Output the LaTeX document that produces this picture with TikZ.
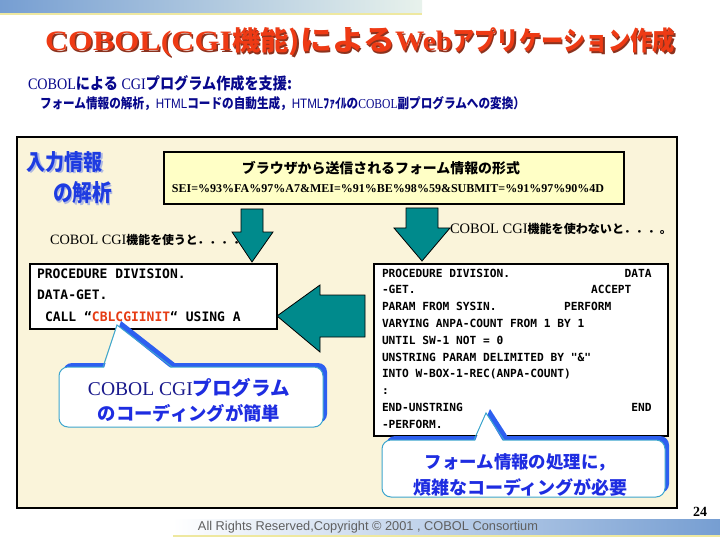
\documentclass[tikz,border=0pt]{standalone}
\usepackage{graphicx}
\usepackage{fontspec}
\setmainfont{Liberation Serif}
\newfontfamily\jp{Noto Sans CJK JP}
\newfontfamily\monof{DejaVu Sans Mono}
\newfontfamily\sansf{Liberation Sans}
\newcommand\J[1]{{\jp\bfseries #1}}
\newcommand\gap[1]{\hspace*{\dimexpr0.602em*#1\relax}}
\definecolor{panel}{RGB}{250,244,218}
\definecolor{boxyellow}{RGB}{255,255,198}
\definecolor{tealA}{RGB}{0,138,140}
\definecolor{titlered}{RGB}{238,58,20}
\definecolor{titleshadow}{RGB}{140,50,30}
\definecolor{subnavy}{RGB}{8,8,140}
\definecolor{inblue}{RGB}{30,60,225}
\definecolor{inshadow}{RGB}{175,185,225}
\definecolor{cblred}{RGB}{230,60,20}
\definecolor{calblue}{RGB}{45,95,240}
\definecolor{calline}{RGB}{60,165,205}
\definecolor{calnavy}{RGB}{25,25,140}
\definecolor{caljp}{RGB}{30,45,225}
\definecolor{barblue}{RGB}{118,158,210}
\definecolor{barmid}{RGB}{210,228,242}
\definecolor{barlight}{RGB}{232,242,236}
\definecolor{baryellow}{RGB}{238,232,160}
\definecolor{footgray}{RGB}{95,95,95}
\newcommand\titletext{%
\resizebox{187pt}{19.5pt}{\bfseries COBOL(CGI}%
\resizebox{68pt}{23pt}{\J{機能)}}%
\resizebox{95pt}{23pt}{\J{による}}%
\resizebox{57pt}{19.5pt}{\bfseries Web}%
\resizebox{223pt}{23pt}{\J{アプリケーション作成}}}
\begin{document}
\begin{tikzpicture}[x=1pt,y=-1pt,
  txt/.style={inner sep=0pt,outer sep=0pt},
  codebox/.style={draw=black,line width=1.6pt,fill=white,inner sep=0pt,anchor=north west},
  tarrow/.style={fill=tealA,draw=black,line width=0.8pt,line join=miter},
  lcode/.style={txt,anchor=base west,font={\monof\bfseries\fontsize{13}{13}\selectfont}},
  rcode/.style={txt,anchor=base west,font={\monof\bfseries\fontsize{11.2}{11.2}\selectfont}},
  calshadow/.style={fill=calblue},
  calbody/.style={draw=calline,line width=1pt,fill=white}]
\useasboundingbox (0,0) rectangle (720,540);
\fill[white] (0,0) rectangle (720,540);
% top bar
\shade[left color=barblue,middle color=barmid,right color=barlight] (0,0) rectangle (422,13);
\fill[baryellow] (0,13) rectangle (422,15);
% title
\node[txt,text=titleshadow,anchor=base west] (titlesh) at (46.5,52.5) {\titletext};
\node[txt,text=titlered,anchor=base west] (title) at (45,51) {\titletext};
% subtitles
\node[txt,anchor=west,text=subnavy] (sub1) at (28,83) {\resizebox{264pt}{14pt}{\fontsize{14}{14}\selectfont COBOL\J{による} CGI\J{プログラム作成を支援:}}};
\node[txt,anchor=west,text=subnavy] (sub2) at (40,104) {\resizebox{485pt}{12pt}{\fontsize{12}{12}\selectfont\J{フォーム情報の解析，}{\sansf HTML}\J{コードの自動生成，}{\sansf HTML}\J{ﾌｧｲﾙの}COBOL\J{副プログラムへの変換）}}};
% panel
\draw[line width=2pt,fill=panel] (17,137) rectangle (677,508);
% input analysis label
\node[txt,anchor=west,text=inshadow] (in1s) at (28.5,163.5) {\resizebox{76pt}{19pt}{\J{入力情報}}};
\node[txt,anchor=west,text=inblue] (in1) at (27,162) {\resizebox{76pt}{19pt}{\J{入力情報}}};
\node[txt,anchor=west,text=inshadow] (in2s) at (54.5,194.5) {\resizebox{59pt}{20pt}{\J{の解析}}};
\node[txt,anchor=west,text=inblue] (in2) at (53,193) {\resizebox{59pt}{20pt}{\J{の解析}}};
% yellow form box
\node[draw=black,line width=1.6pt,fill=boxyellow,minimum width=460pt,minimum height=52pt,anchor=north west,inner sep=0pt] (ybox) at (163,151) {};
\node[txt] (yt1) at (381,168) {\resizebox{278pt}{!}{\J{ブラウザから送信されるフォーム情報の形式}}};
\node[txt] (yt2) at (388,189) {\resizebox{432pt}{!}{\bfseries SEI=\%93\%FA\%97\%A7\&MEI=\%91\%BE\%98\%59\&SUBMIT=\%91\%97\%90\%4D}};
% captions
\node[txt,anchor=west] (use) at (50,240) {\resizebox{195pt}{!}{\fontsize{15}{15}\selectfont COBOL CGI{\fontsize{12.5}{12.5}\selectfont\J{機能を使うと．．．．}}}};
\node[txt,anchor=west] (nouse) at (450,229) {\resizebox{222pt}{!}{\fontsize{15}{15}\selectfont COBOL CGI{\fontsize{12.5}{12.5}\selectfont\J{機能を使わないと．．．。}}}};
% down arrows
\draw[tarrow] (241,209) -- (263,209) -- (263,232) -- (273,232) -- (252,262) -- (232,232) -- (241,232) -- cycle;
\draw[tarrow] (406,208) -- (438,208) -- (438,228) -- (450,228) -- (422,261) -- (394,228) -- (406,228) -- cycle;
% code boxes
\node[codebox,minimum width=247pt,minimum height=65pt] (lbox) at (29,263) {};
\node[codebox,minimum width=294pt,minimum height=172pt] (rbox) at (373,263) {};
% left arrow
\draw[tarrow] (365,295) -- (320,295) -- (320,285) -- (277,316) -- (320,352) -- (320,337) -- (365,337) -- cycle;
% left code
\node[lcode] (l1) at (37,278) {PROCEDURE DIVISION.};
\node[lcode] (l2) at (37,299) {DATA-GET.};
\node[lcode] (l3) at (45,321) {CALL “\textcolor{cblred}{CBLCGIINIT}“ USING A};
% right code
\node[rcode] (r1) at (382,277.1) {PROCEDURE DIVISION.\gap{17}DATA};
\node[rcode] (r2) at (382,293.9) {-GET.\gap{26}ACCEPT};
\node[rcode] (r3) at (382,310.7) {PARAM FROM SYSIN.\gap{10}PERFORM};
\node[rcode] (r4) at (382,327.5) {VARYING ANPA-COUNT FROM 1 BY 1};
\node[rcode] (r5) at (382,344.3) {UNTIL SW-1 NOT = 0};
\node[rcode] (r6) at (382,361.1) {UNSTRING PARAM DELIMITED BY "\&"};
\node[rcode] (r7) at (382,377.9) {INTO W-BOX-1-REC(ANPA-COUNT)};
\node[rcode] (r8) at (382,394.7) {:};
\node[rcode] (r9) at (382,411.5) {END-UNSTRING\gap{25}END};
\node[rcode] (r10) at (382,428.3) {-PERFORM.};
% left callout
\begin{scope}[shift={(4,-4)}]
  \fill[calshadow,rounded corners=9pt] (59,367) rectangle (323,427);
  \fill[calshadow] (103,368) -- (117,325) -- (172,368) -- cycle;
\end{scope}
\draw[calbody,rounded corners=9pt] (59,367) rectangle (323,427);
\fill[white] (104,368.5) -- (117,325) -- (171,368.5) -- cycle;
\draw[calline,line width=1pt] (103,367) -- (117,325) -- (172,367);
\node[txt] (c1a) at (189,388) {\resizebox{202pt}{!}{\fontsize{18}{18}\selectfont\textcolor{calnavy}{COBOL CGI}\textcolor{caljp}{\J{プログラム}}}};
\node[txt,text=caljp] (c1b) at (189,413) {\resizebox{182pt}{!}{\J{のコーディングが簡単}}};
% right callout
\begin{scope}[shift={(4,-4)}]
  \fill[calshadow,rounded corners=9pt] (382,440) rectangle (665,497);
  \fill[calshadow] (474,441) -- (486,413) -- (504,441) -- cycle;
\end{scope}
\draw[calbody,rounded corners=9pt] (382,440) rectangle (665,497);
\fill[white] (475,441.5) -- (486,413) -- (503,441.5) -- cycle;
\draw[calline,line width=1pt] (474,440) -- (486,413) -- (504,440);
\node[txt,text=caljp] (c2a) at (520,462) {\resizebox{190pt}{!}{\J{フォーム情報の処理に，}}};
\node[txt,text=caljp] (c2b) at (520.5,487) {\resizebox{215pt}{!}{\J{煩雑なコーディングが必要}}};
% footer
\shade[left color=white,middle color=barmid,right color=barblue] (173,519) rectangle (720,535);
\fill[baryellow] (173,535) rectangle (720,537);
\node[txt,text=footgray] (foot) at (368,527) {\resizebox{340pt}{!}{\sansf All Rights Reserved,Copyright © 2001 , COBOL Consortium}};
\node[txt] (pnum) at (700,512) {\bfseries\fontsize{14}{14}\selectfont 24};
\end{tikzpicture}
\end{document}
